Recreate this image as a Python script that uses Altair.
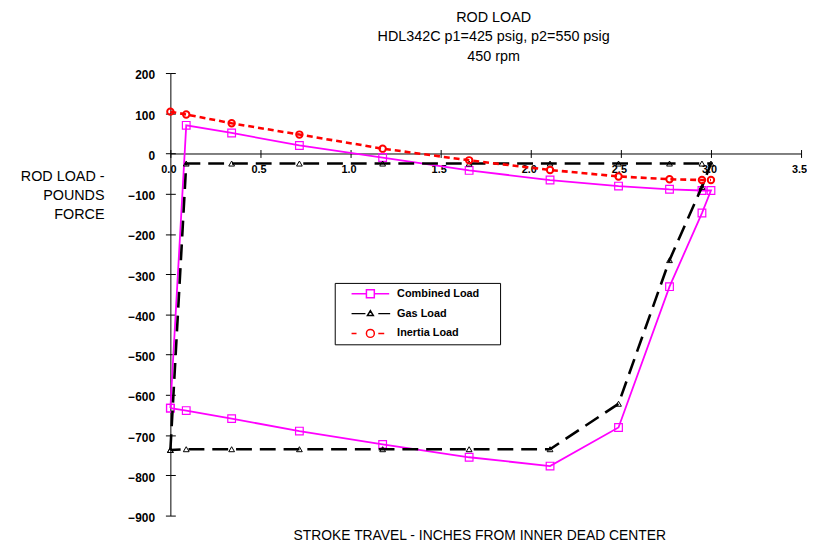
import altair as alt
import pandas as pd

# ---- data ----
stroke_in = [0.0, 0.088, 0.34, 0.716, 1.178, 1.658, 2.107, 2.487, 2.77, 2.95, 3.0,
             2.95, 2.77, 2.487, 2.107, 1.658, 1.178, 0.716, 0.34, 0.088, 0.0]
combined_load = [-633, 70, 51, 20, -10, -42, -66, -81, -89, -92, -92,
                 -148, -331, -681, -777, -755, -723, -690, -659, -639, -633]
gas_load = [-737, -25, -25, -25, -25, -25, -25, -25, -25, -25, -25,
            -83, -265, -622, -735, -735, -735, -735, -735, -735, -737]
# inertia load: forward stroke only (the return stroke retraces the same values)
inertia_load = [104, 97, 75, 47, 12, -17, -41, -57, -64, -66, -66]
series_names = ["Combined Load", "Gas Load", "Inertia Load"]
series_colors = ["#FF00FF", "#000000", "#FF0000"]
x_ticks = [0.0, 0.5, 1.0, 1.5, 2.0, 2.5, 3.0, 3.5]
y_ticks = [200, 100, 0, -100, -200, -300, -400, -500, -600, -700, -800, -900]
title_lines = ["ROD LOAD", "HDL342C p1=425 psig, p2=550 psig", "450 rpm"]
y_title_lines = ["ROD LOAD -", "POUNDS", "FORCE"]
x_title = "STROKE TRAVEL - INCHES FROM INNER DEAD CENTER"

rows = []
for name, vals in zip(series_names, [combined_load, gas_load, inertia_load]):
    for i, (xv, yv) in enumerate(zip(stroke_in, vals)):
        rows.append({"series": name, "step": i, "x": xv, "y": yv})
df = pd.DataFrame(rows)

FONT = "Liberation Sans"
W, H = 637, 447
Y0 = H * 200 / 1100  # pixel position of y=0 from top

xs = alt.Scale(domain=[0, 3.5], nice=False, zero=False)
ys = alt.Scale(domain=[-900, 200], nice=False, zero=False)

main_x_axis = alt.Axis(
    orient="bottom", offset=-(H - Y0), values=x_ticks, format=".1f", grid=False,
    tickSize=4, tickColor="black", domainColor="black",
    labelFont=FONT, labelFontSize=11, labelFontWeight="bold", labelColor="black",
    labelPadding=6, labelOffset=-2, labelFlush=False, labelOverlap=False,
    title=x_title, titleFont=FONT, titleFontSize=14, titleFontWeight="normal",
    titleColor="black", titleX=312, titleY=542 - 71 - Y0, titleAlign="center",
    titleBaseline="alphabetic",
)
main_y_axis = alt.Axis(
    orient="left", values=y_ticks, format="d", grid=False,
    tickSize=5, tickColor="black", domainColor="black",
    labelFont=FONT, labelFontSize=12, labelFontWeight="bold", labelColor="black",
    labelPadding=11, labelOffset=2, labelFlush=False, labelOverlap=False,
    labelBaseline="middle",
    title=y_title_lines, titleFont=FONT, titleFontSize=14.5, titleFontWeight="normal",
    titleColor="black", titleAngle=0, titleAlign="right", titleBaseline="alphabetic",
    titleX=-67, titleY=109, titleLineHeight=19,
)
top_tick_axis = alt.Axis(orient="top", offset=-Y0, values=x_ticks, tickSize=4,
                         tickColor="black", labels=False, domain=False, grid=False, title=None)
right_tick_axis = alt.Axis(orient="right", offset=-W, values=y_ticks, tickSize=5,
                           tickColor="black", labels=False, domain=False, grid=False, title=None)

r = 26.25
def u(v):
    return round(v / r, 3)

legend_paths = [
    f"M{u(-19)},0L{u(-4)},0M{u(4)},0L{u(19)},0M{u(-4)},{u(-4)}L{u(4)},{u(-4)}L{u(4)},{u(4)}L{u(-4)},{u(4)}Z",
    f"M{u(-19)},0L{u(-5)},0M{u(8)},0L{u(20)},0M{u(-3)},{u(2)}L{u(3)},{u(2)}L0,{u(-3)}Z",
    f"M{u(-19)},0L{u(-14)},0M{u(8)},0L{u(14)},0M{u(-4)},0A{u(4)},{u(4)},0,1,1,{u(4)},0A{u(4)},{u(4)},0,1,1,{u(-4)},0Z",
]

legend_def = alt.Legend(
    orient="none", legendX=166, legendY=212, title=None, padding=5,
    fillColor="white", strokeColor="black",
    labelFont=FONT, labelFontSize=11, labelFontWeight="bold", labelColor="black",
    symbolSize=r * r * 4, symbolStrokeWidth=1.5, clipHeight=12, rowPadding=8,
    symbolOffset=4, labelOffset=0,
    labelExpr="datum.label + '     \u200b'",
)

def series_layers(name, color, dash, lw, shape, size, pw, first=False):
    base = alt.Chart(df).transform_filter(alt.datum.series == name)
    line_kw = dict(color=color, strokeWidth=lw)
    if dash:
        line_kw["strokeDash"] = dash
    xa = main_x_axis if first else None
    ya = main_y_axis if first else None
    line = base.mark_line(**line_kw).encode(
        x=alt.X("x:Q", scale=xs, axis=xa),
        y=alt.Y("y:Q", scale=ys, axis=ya),
        order="step:Q",
    )
    pts = base.mark_point(shape=shape, filled=False, color=color, size=size,
                          strokeWidth=pw, opacity=1).encode(
        x=alt.X("x:Q", scale=xs, axis=None),
        y=alt.Y("y:Q", scale=ys, axis=None),
    )
    return [line, pts]

layers = []
layers += series_layers("Combined Load", "#FF00FF", None, 1.8, "square", 60, 1.2, first=True)
layers += series_layers("Gas Load", "#000000", [16, 8], 2.6, "triangle-up", 34, 1.0)
layers += series_layers("Inertia Load", "#FF0000", [6, 4], 2.6, "circle", 42, 2.0)

legend_layer = alt.Chart(df).mark_point(opacity=0, filled=False).encode(
    x=alt.X("x:Q", scale=xs, axis=top_tick_axis),
    y=alt.Y("y:Q", scale=ys, axis=right_tick_axis),
    shape=alt.Shape("series:N", scale=alt.Scale(domain=series_names, range=legend_paths),
                    legend=legend_def),
    color=alt.Color("series:N", scale=alt.Scale(domain=series_names, range=series_colors),
                    legend=legend_def),
)
layers.append(legend_layer)

chart = alt.layer(*layers).resolve_axis(x="independent", y="independent").properties(
    width=W, height=H,
    title=alt.TitleParams(text=title_lines, font=FONT, fontSize=14.5, fontWeight="normal",
                          color="black", anchor="middle", frame="group", offset=5, dx=8,
                          lineHeight=19.5),
    padding={"left": 164, "top": 63, "right": 6, "bottom": 25},
    autosize=alt.AutoSizeParams(type="none"),
).configure_view(stroke=None)

chart.save("out.html", embed_options={"renderer": "svg", "actions": False})
